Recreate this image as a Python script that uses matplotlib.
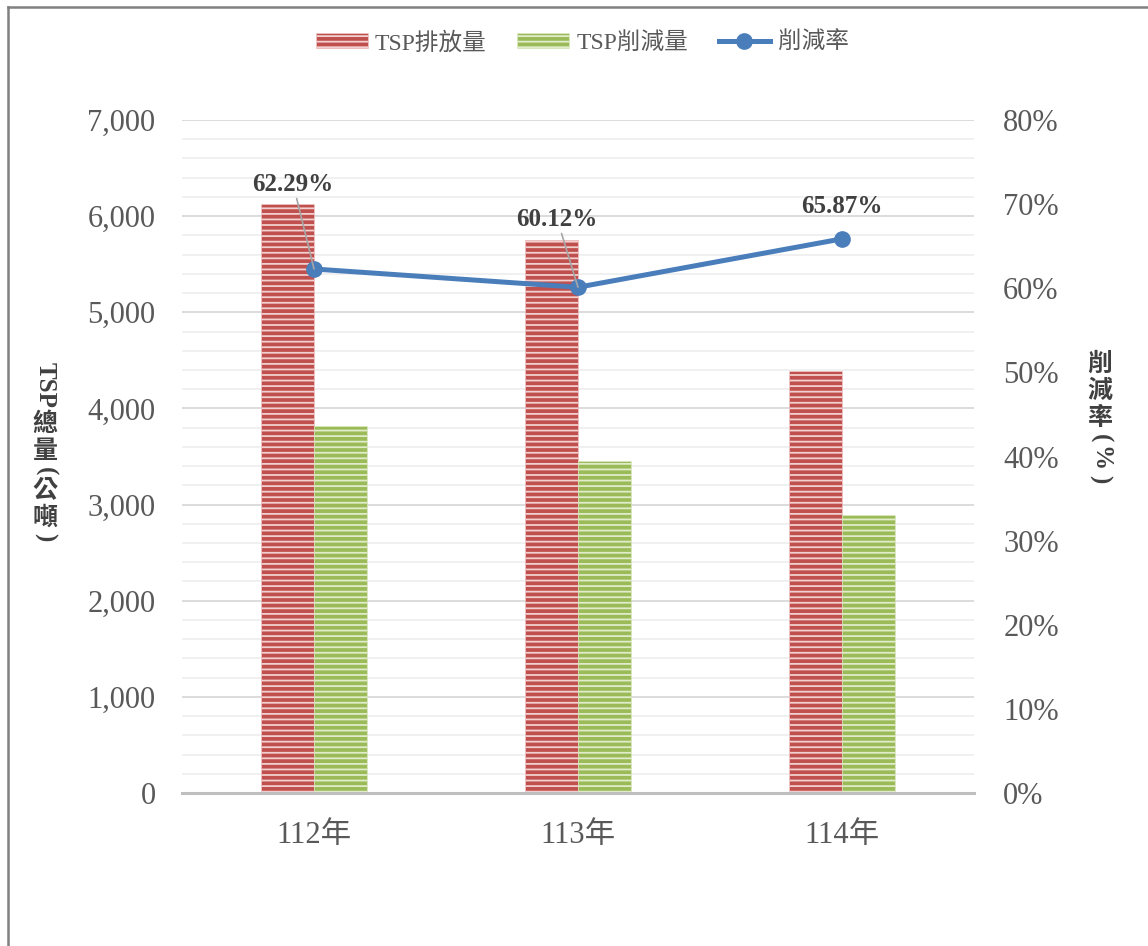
import matplotlib
matplotlib.use("Agg")
import matplotlib.pyplot as plt
from matplotlib.lines import Line2D
import numpy as np

# ---- data ----
categories = ["112年", "113年", "114年"]
emission = [6126, 5752, 4389]          # TSP排放量
reduction = [3816, 3458, 2891]         # TSP削減量
rate = [0.6229, 0.6012, 0.6587]        # 削減率
rate_labels = ["62.29%", "60.12%", "65.87%"]
left_ticks = [0, 1000, 2000, 3000, 4000, 5000, 6000, 7000]
right_ticks = [0, 0.1, 0.2, 0.3, 0.4, 0.5, 0.6, 0.7, 0.8]
legend_names = ["TSP排放量", "TSP削減量", "削減率"]

# ---- style ----
FAM = ["Liberation Serif", "Noto Sans CJK TC", "DejaVu Sans"]
plt.rcParams["font.family"] = FAM
plt.rcParams["hatch.linewidth"] = 1.3
TXT = "#595959"
RED = "#c0504d"
GREEN = "#9bbb59"
BLUE = "#4a7ebb"
W, H = 1148, 946

fig = plt.figure(figsize=(W / 100, H / 100), dpi=100)
ax = fig.add_axes([182 / W, 1 - 793 / H, (974 - 182) / W, (793 - 120) / H])
ax2 = ax.twinx()

x = np.arange(len(categories))
bw = 0.2
b1 = ax.bar(x - bw / 2, emission, bw, color=RED, edgecolor="#f2d0cf",
            hatch="---", linewidth=0.4, zorder=3, label=legend_names[0])
b2 = ax.bar(x + bw / 2, reduction, bw, color=GREEN, edgecolor="#e0ecca",
            hatch="---", linewidth=0.4, zorder=3, label=legend_names[1])

ax.set_xlim(-0.5, len(categories) - 0.5)
ax.set_ylim(0, 7000)
ax.set_yticks(left_ticks)
ax.set_yticklabels([f"{v:,}" for v in left_ticks])
ax.set_yticks(np.arange(0, 7001, 200), minor=True)
ax.grid(axis="y", which="major", color="#d9d9d9", lw=1.3, zorder=0)
ax.grid(axis="y", which="minor", color="#efefef", lw=1.3, zorder=0)
ax.set_xticks(x)
ax.set_xticklabels(categories)
ax.tick_params(axis="both", which="both", length=0, labelsize=22, colors=TXT)
ax.tick_params(axis="y", pad=19)
ax.tick_params(axis="x", pad=20)
for s in ["left", "right", "top"]:
    ax.spines[s].set_visible(False)
ax.spines["bottom"].set_color("#bfbfbf")
ax.spines["bottom"].set_linewidth(2.2)
ax.spines["bottom"].set_zorder(4)

ln, = ax2.plot(x, rate, color=BLUE, lw=3.6, marker="o", ms=11, zorder=5,
               label=legend_names[2])
ax2.set_ylim(0, 0.8)
ax2.set_yticks(right_ticks)
ax2.set_yticklabels([f"{v*100:.0f}%" for v in right_ticks])
ax2.tick_params(axis="y", length=0, labelsize=22, colors=TXT, pad=21)
for s in ax2.spines.values():
    s.set_visible(False)

offsets = [(-15, 61), (-15, 49), (0, 23)]
leaders = [True, True, False]
for xi, r, lab, off, ld in zip(x, rate, rate_labels, offsets, leaders):
    kw = {}
    if ld:
        kw["arrowprops"] = dict(arrowstyle="-", color="#a6a6a6", lw=1.2,
                                shrinkA=0, shrinkB=0)
    ax2.annotate(lab, xy=(xi, r), xytext=off, textcoords="offset points",
                 ha="center", va="center", fontsize=18, fontweight="bold",
                 color="#404040", zorder=6, **kw)

fig.legend([b1, b2, ln], legend_names, loc="center", ncol=3,
           bbox_to_anchor=(582 / W, 1 - 43 / H), frameon=False,
           fontsize=17, handlelength=2.2, handleheight=0.6,
           handletextpad=0.3, columnspacing=1.3, labelcolor=TXT)

# figure border (left & top)
fig.add_artist(Line2D([8 / W, 8 / W], [0, 1 - 7 / H], color="#808080", lw=1.8,
                      transform=fig.transFigure))
fig.add_artist(Line2D([8 / W, 1], [1 - 7 / H, 1 - 7 / H], color="#808080", lw=1.8,
                      transform=fig.transFigure))

# vertical (East Asian style) axis titles
renderer = fig.canvas.get_renderer()


def vertical_label(segments, xc, ytop, size=18, gap=4):
    y = ytop
    for txt, rot in segments:
        t = fig.text(xc / W, 1 - y / H, txt, rotation=rot, ha="center", va="top",
                     fontsize=size, fontweight="bold", color="#404040")
        bb = t.get_window_extent(renderer)
        y += bb.height + gap


vertical_label([("TSP", -90), ("總", 0), ("量", 0), ("(", -90), ("公", 0),
                ("噸", 0), (")", -90)], 45, 362)
vertical_label([("削", 0), ("減", 0), ("率", 0), ("(", -90), ("%", -90),
                (")", -90)], 1100, 352)

fig.savefig("out.png", dpi=100)
